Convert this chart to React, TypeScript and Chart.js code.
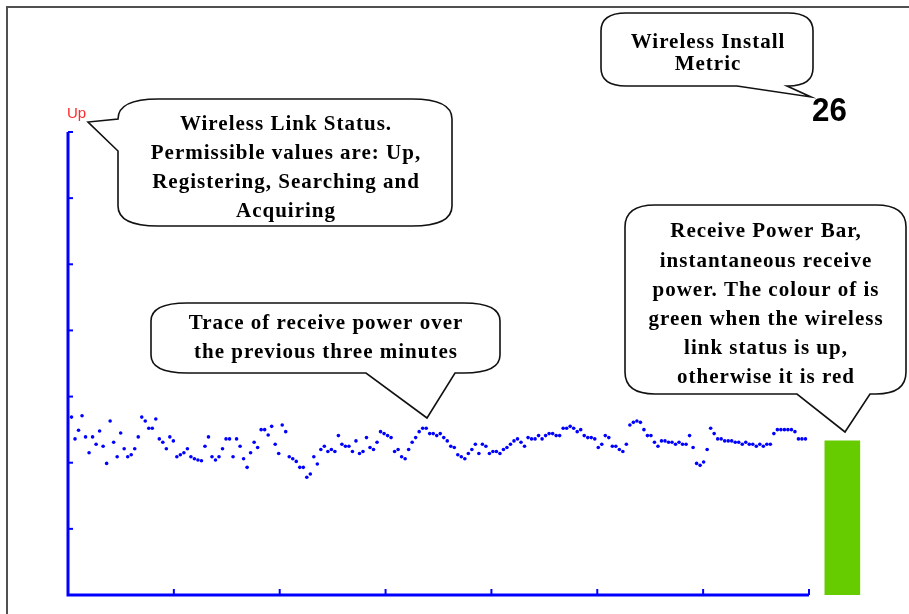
import React, { useEffect, useRef } from "react";
import { Chart, registerables } from "chart.js";

Chart.register(...registerables);

// ---- data ----
// receive power trace over the previous three minutes (one value per sample, arbitrary 0..70 scale)
const traceValues: number[] = [
  26.9, 23.6, 24.9, 27.1, 23.9, 21.5, 23.9, 22.8, 24.8, 22.5,
  19.9, 26.3, 23.1, 20.9, 24.5, 22.1, 20.9, 21.2, 22.1, 23.9,
  26.9, 26.3, 25.2, 25.2, 26.6, 23.6, 23.1, 22.1, 23.9, 23.3,
  20.9, 21.2, 21.5, 22.1, 20.9, 20.6, 20.4, 20.3, 22.5, 23.9,
  20.9, 20.4, 20.9, 22.1, 23.6, 23.6, 20.9, 23.6, 22.5, 20.6,
  19.3, 21.5, 23.1, 22.3, 25.0, 25.0, 24.2, 25.5, 22.8, 21.4,
  25.7, 24.7, 20.9, 20.6, 20.2, 19.3, 19.3, 17.8, 18.3, 20.9,
  19.8, 22.0, 22.5, 21.7, 22.0, 21.7, 24.1, 22.8, 22.5, 22.5,
  21.7, 23.3, 21.4, 21.7, 23.8, 22.3, 22.0, 23.1, 24.7, 24.4,
  24.1, 23.8, 21.7, 22.0, 20.9, 20.6, 22.0, 23.1, 23.8, 24.7,
  25.2, 25.2, 24.4, 24.4, 24.1, 24.4, 23.8, 23.3, 22.5, 22.3,
  21.2, 20.9, 20.6, 21.4, 22.0, 22.8, 21.4, 22.8, 22.5, 21.4,
  21.7, 21.7, 21.4, 22.0, 22.3, 22.8, 23.3, 23.6, 23.1, 22.5,
  23.8, 23.6, 23.6, 24.1, 23.6, 24.1, 24.4, 24.4, 24.1, 24.1,
  25.2, 25.2, 25.5, 25.2, 24.7, 25.0, 24.1, 23.8, 23.8, 23.6,
  22.3, 22.8, 24.1, 23.8, 22.5, 22.5, 22.0, 21.7, 22.8, 25.7,
  26.1, 26.3, 26.1, 25.0, 24.1, 24.1, 23.1, 22.5, 23.3, 23.3,
  23.1, 23.1, 22.8, 23.1, 22.8, 22.8, 24.1, 22.3, 19.9, 19.6,
  20.1, 22.0, 25.2, 24.4, 23.6, 23.6, 23.3, 23.3, 23.3, 23.1,
  23.1, 22.8, 23.1, 22.8, 22.8, 22.5, 22.8, 22.5, 22.8, 22.8,
  24.4, 25.0, 25.0, 25.0, 25.0, 25.0, 24.7, 23.6, 23.6, 23.6,
];

// instantaneous receive power (green bar) and its slot just beyond the trace
const currentPower = 23.3;
const currentSlot = 220.5;

const installMetric = 26;
const linkStatusLabel = "Up"; // label of the top of the status axis

// axis ranges
const traceAxisEnd = 211;
const xDivisions = 7;
const yMax = 70;
const yStep = 10;
const xScaleMax = 230;

// callout texts
const linkStatusNote = [
  "Wireless Link Status.",
  "Permissible values are: Up,",
  "Registering, Searching and",
  "Acquiring",
];
const traceNote = ["Trace of receive power over", "the previous three minutes"];
const barNote = [
  "Receive Power Bar,",
  "instantaneous receive",
  "power. The colour of is",
  "green when the wireless",
  "link status is up,",
  "otherwise it is red",
];
const metricNote = ["Wireless Install", "Metric"];

type Bubble = {
  l: number; t: number; r: number; b: number; rx: number; ry: number;
  tail: { side: "left" | "bottom"; from: number; to: number; tip: [number, number] };
  cx: number; y0: number; dy: number; lines: string[];
};

const bubbles: Bubble[] = [
  { l: 118, t: 99, r: 452, b: 226, rx: 40, ry: 20, tail: { side: "left", from: 119, to: 151, tip: [88, 122] }, cx: 286, y0: 124, dy: 29, lines: linkStatusNote },
  { l: 151, t: 303, r: 500, b: 373, rx: 36, ry: 18, tail: { side: "bottom", from: 366, to: 455, tip: [427, 418] }, cx: 326, y0: 323, dy: 29, lines: traceNote },
  { l: 625, t: 205, r: 906, b: 394, rx: 30, ry: 22, tail: { side: "bottom", from: 797, to: 870, tip: [845, 432] }, cx: 766, y0: 231, dy: 29.2, lines: barNote },
  { l: 601, t: 13, r: 813, b: 86, rx: 25, ry: 18, tail: { side: "bottom", from: 737, to: 787, tip: [811, 97] }, cx: 708, y0: 42, dy: 22, lines: metricNote },
];

function drawBubble(ctx: CanvasRenderingContext2D, bb: Bubble) {
  const { l, t, r, b, rx, ry, tail } = bb;
  ctx.beginPath();
  ctx.moveTo(l + rx, t);
  ctx.lineTo(r - rx, t);
  ctx.quadraticCurveTo(r, t, r, t + ry);
  ctx.lineTo(r, b - ry);
  ctx.quadraticCurveTo(r, b, r - rx, b);
  if (tail.side === "bottom") {
    ctx.lineTo(tail.to, b);
    ctx.lineTo(tail.tip[0], tail.tip[1]);
    ctx.lineTo(tail.from, b);
  }
  ctx.lineTo(l + rx, b);
  ctx.quadraticCurveTo(l, b, l, b - ry);
  if (tail.side === "left") {
    ctx.lineTo(l, tail.to);
    ctx.lineTo(tail.tip[0], tail.tip[1]);
    ctx.lineTo(l, tail.from);
  }
  ctx.lineTo(l, t + ry);
  ctx.quadraticCurveTo(l, t, l + rx, t);
  ctx.closePath();
  ctx.fillStyle = "#ffffff";
  ctx.fill();
  ctx.strokeStyle = "#111111";
  ctx.lineWidth = 1.6;
  ctx.stroke();

  ctx.fillStyle = "#000000";
  ctx.font = 'bold 21px "Liberation Serif", "Times New Roman", serif';
  (ctx as any).letterSpacing = "1px";
  ctx.textAlign = "center";
  ctx.textBaseline = "middle";
  bb.lines.forEach((line, i) => {
    ctx.fillText(line, bb.cx, bb.y0 + i * bb.dy + 1);
  });
  (ctx as any).letterSpacing = "0px";
}

const overlayPlugin = {
  id: "overlay",
  beforeDraw(chart: any) {
    const ctx = chart.ctx as CanvasRenderingContext2D;
    ctx.save();
    ctx.fillStyle = "#ffffff";
    ctx.fillRect(0, 0, chart.width, chart.height);
    ctx.strokeStyle = "#505050";
    ctx.lineWidth = 2;
    ctx.beginPath();
    ctx.moveTo(7, chart.height);
    ctx.lineTo(7, 7);
    ctx.lineTo(chart.width, 7);
    ctx.stroke();
    ctx.restore();
  },
  afterDraw(chart: any) {
    const ctx = chart.ctx as CanvasRenderingContext2D;
    const xs = chart.scales.x;
    const ys = chart.scales.y;
    const x0 = xs.getPixelForValue(0);
    const x1 = xs.getPixelForValue(traceAxisEnd);
    const y0 = ys.getPixelForValue(0);
    const y1 = ys.getPixelForValue(yMax);
    ctx.save();
    // axes
    ctx.strokeStyle = "#0000ff";
    ctx.lineWidth = 3;
    ctx.lineJoin = "miter";
    ctx.beginPath();
    ctx.moveTo(x0, y1);
    ctx.lineTo(x0, y0);
    ctx.lineTo(x1, y0);
    ctx.stroke();
    ctx.lineWidth = 2;
    for (let v = 0; v <= yMax; v += yStep) {
      const y = ys.getPixelForValue(v);
      ctx.beginPath();
      ctx.moveTo(x0, y);
      ctx.lineTo(x0 + 5, y);
      ctx.stroke();
    }
    for (let i = 0; i <= xDivisions; i++) {
      const x = xs.getPixelForValue((i * traceAxisEnd) / xDivisions);
      ctx.beginPath();
      ctx.moveTo(x, y0);
      ctx.lineTo(x, y0 - 6);
      ctx.stroke();
    }
    // callouts
    bubbles.forEach((bb) => drawBubble(ctx, bb));

    // status label at the top of the axis
    ctx.fillStyle = "#ff2a2a";
    ctx.font = '15px "Liberation Sans", Arial, sans-serif';
    ctx.textAlign = "center";
    ctx.textBaseline = "alphabetic";
    ctx.fillText(linkStatusLabel, x0 + 8.5, y1 - 14);

    // install metric value
    ctx.fillStyle = "#000000";
    ctx.font = 'bold 34px "Liberation Sans", Arial, sans-serif';
    ctx.textAlign = "left";
    ctx.textBaseline = "alphabetic";
    ctx.save();
    ctx.translate(812, 121);
    ctx.scale(0.92, 1);
    ctx.fillText(String(installMetric), 0, 0);
    ctx.restore();
    ctx.restore();
  },
};

export default function App() {
  const ref = useRef<HTMLCanvasElement>(null);
  useEffect(() => {
    const canvas = ref.current;
    if (!canvas) return;
    const points = traceValues.map((v, i) => ({ x: i + 1, y: v }));
    const chart = new Chart(canvas, {
      type: "scatter",
      data: {
        datasets: [
          {
            type: "scatter",
            data: points,
            pointRadius: 1.8,
            pointHoverRadius: 1.8,
            pointStyle: "circle",
            backgroundColor: "#0000ff",
            borderWidth: 0,
          } as any,
          {
            type: "bar",
            data: [{ x: currentSlot, y: currentPower }],
            backgroundColor: "#66cc00",
            barThickness: 35,
            borderWidth: 0,
          } as any,
        ],
      },
      options: {
        animation: false,
        responsive: false,
        devicePixelRatio: 1,
        events: [],
        layout: { padding: { left: 68, top: 132, right: 909 - 68 - 807.7, bottom: 19 } },
        scales: {
          x: { type: "linear", min: 0, max: xScaleMax, offset: false, display: false },
          y: { type: "linear", min: 0, max: yMax, display: false },
        },
        plugins: { legend: { display: false }, tooltip: { enabled: false } },
      },
      plugins: [overlayPlugin],
    });
    return () => chart.destroy();
  }, []);
  return (
    <div style={{ position: "fixed", left: 0, top: 0, width: 909, height: 614, background: "#fff" }}>
      <canvas ref={ref} width={909} height={614} style={{ display: "block", width: 909, height: 614 }} />
    </div>
  );
}
